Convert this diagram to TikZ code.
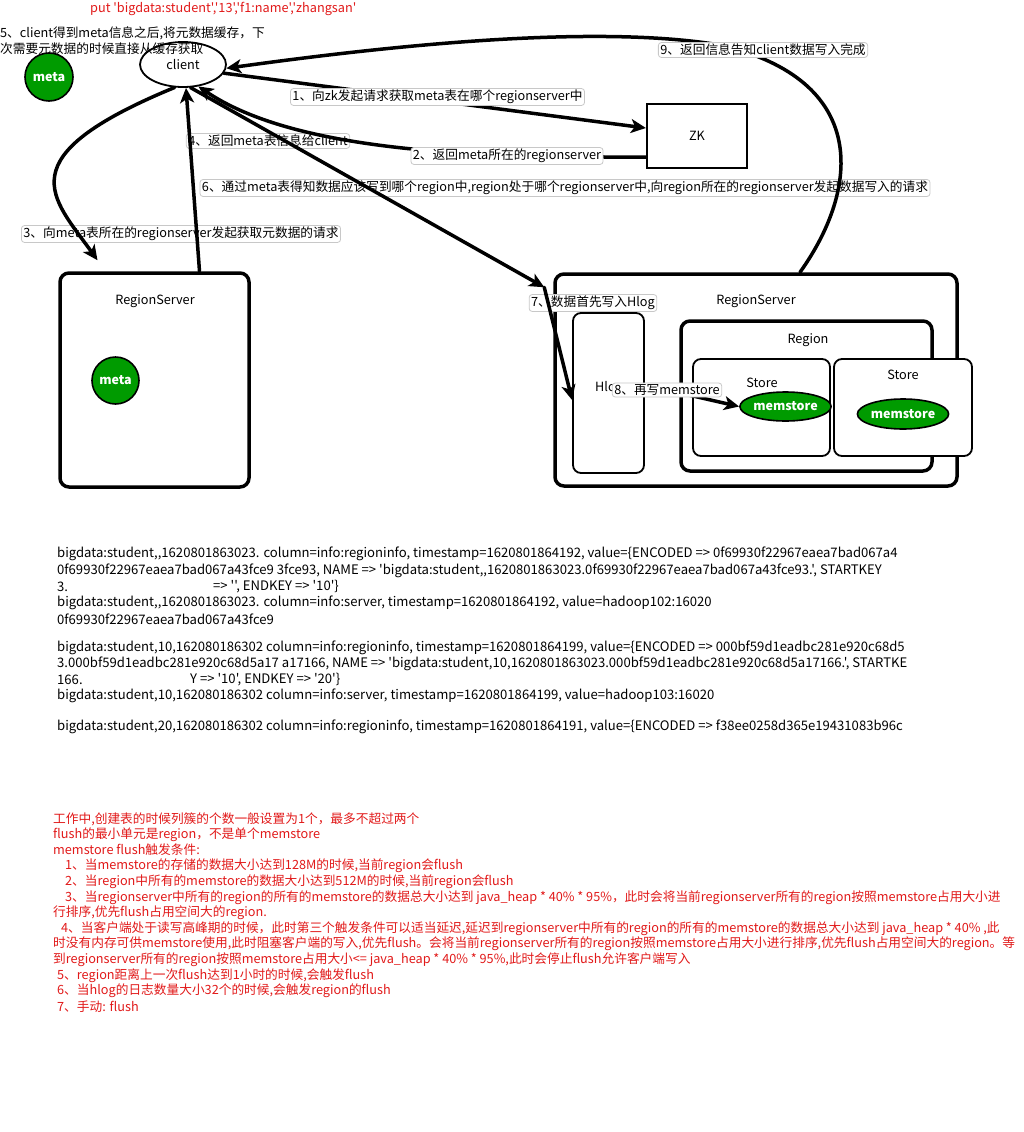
\documentclass[tikz,border=0pt]{standalone}
\usepackage{fontspec}
\newfontfamily\cnfont{Noto Sans CJK SC}
\usetikzlibrary{shapes.geometric,arrows.meta}
\definecolor{metagreen}{RGB}{0,155,0}
\definecolor{notered}{RGB}{225,25,25}
\definecolor{lblgray}{RGB}{200,200,200}

\begin{document}
\begin{tikzpicture}[x=1pt,y=-1pt,
	font=\cnfont\fontsize{12.7}{16}\selectfont,
	box/.style={draw,line width=3.5pt,rounded corners=9pt},
	thinbox/.style={draw,line width=1.8pt,rounded corners=8pt,fill=white},
	bubble/.style={draw,line width=1.6pt,fill=metagreen,text=white,font=\cnfont\bfseries\fontsize{12.5}{15}\selectfont},
	lbl/.style={draw=lblgray,fill=white,rounded corners=3pt,line width=0.8pt,inner xsep=2pt,inner ysep=1.5pt},
	flow/.style={line width=3.5pt,line cap=round,-{Stealth[length=15pt,width=14pt,inset=4pt]}},
	line/.style={anchor=west,inner sep=0pt,font=\cnfont\fontsize{13.1}{16}\selectfont},
	redline/.style={anchor=west,inner sep=0pt,text=notered}]
	\useasboundingbox (0,0) rectangle (1024,1132);

	\node[redline] (put) at (90,9) {put 'bigdata:student','13','f1:name','zhangsan'};

	\node[draw,ellipse,line width=1.8pt,minimum width=86pt,minimum height=45pt] (client) at (183,64.5) {client};
	\node[anchor=west,inner sep=0pt,align=left] (cache) at (0,41) {5、client得到meta信息之后,将元数据缓存，下\\次需要元数据的时候直接从缓存获取};
	\node[bubble,circle,minimum size=48pt,inner sep=0pt] (meta0) at (49,77) {meta};
	\node[draw,line width=2.2pt,minimum width=100pt,minimum height=64pt] (zk) at (697,136) {ZK};

	\node[box,minimum width=189pt,minimum height=214pt] (rs1) at (154.5,380) {};
	\node (rs1name) at (155,301) {RegionServer};
	\node[bubble,circle,minimum size=47pt,inner sep=0pt] (meta1) at (115.5,380.5) {meta};

	\node[box,minimum width=402pt,minimum height=212pt] (rs2) at (756,380) {};
	\node (rs2name) at (756,301) {RegionServer};
	\node[thinbox,minimum width=71pt,minimum height=160pt] (hlog) at (608.5,393) {};
	\node (hlogname) at (609,388) {Hlog};
	\node[box,minimum width=251pt,minimum height=150pt] (region) at (806.5,396) {};
	\node (regionname) at (808,340) {Region};
	\node[thinbox,minimum width=137pt,minimum height=97pt] (store1) at (761.5,407.5) {};
	\node (store1name) at (762,383) {Store};
	\node[bubble,ellipse,minimum width=73pt,minimum height=29pt,inner sep=0pt] (mem1) at (785.5,406.5) {memstore};
	\node[thinbox,minimum width=138pt,minimum height=97pt] (store2) at (903,407.5) {};
	\node (store2name) at (903,375) {Store};
	\node[bubble,ellipse,minimum width=74pt,minimum height=30pt,inner sep=0pt] (mem2) at (903,414) {memstore};

	\node[lbl] (lbl6) at (565,188) {6、通过meta表得知数据应该写到哪个region中,region处于哪个regionserver中,向region所在的regionserver发起数据写入的请求};
	\node[lbl] (lbl3) at (181,234) {3、向meta表所在的regionserver发起获取元数据的请求};
	\node[lbl] (lbl4) at (268,141) {4、返回meta表信息给client};
	\node[lbl] (lbl7) at (593,303) {7、数据首先写入Hlog};

	\coordinate (gate) at ([xshift=-9pt,yshift=-15pt]rs2.north west);
	\coordinate (bend9) at (720,45);

	\draw[flow] (client.-12) -- ([yshift=8pt]zk.west);
	\draw[flow] ([yshift=-21pt]zk.west) -- ++(-40,0) .. controls +(-187,0) and +(82,55) .. (client.-55);
	\draw[flow] (client.-110) .. controls +(-170,70) and +(-45,-63) .. ([xshift=-57pt,yshift=11pt]rs1.north);
	\draw[flow] ([xshift=45pt]rs1.north) -- ([xshift=3pt]client.south);
	\draw[flow] (client.-72) -- (gate);
	\draw[flow] (gate) -- ([yshift=-7pt]hlog.west);
	\draw[flow] ([yshift=8pt]hlog.east) -- (mem1.west);
	\draw[flow] ([xshift=44pt]rs2.north) .. controls +(60,-84) and +(150,35) .. (bend9) .. controls +(-120,-20) and +(180,-25) .. (client.-5);

	\node[lbl] (lbl1) at (437.5,97) {1、向zk发起请求获取meta表在哪个regionserver中};
	\node[lbl] (lbl2) at (507,156) {2、返回meta所在的regionserver};
	\node[lbl] (lbl9) at (763,50) {9、返回信息告知client数据写入完成};
	\node[lbl] (lbl8) at (667,390) {8、再写memstore};

	\node[line] (row1) at (57,554) {bigdata:student,,1620801863023. column=info:regioninfo, timestamp=1620801864192, value=\{ENCODED => 0f69930f22967eaea7bad067a4};
	\node[line] (row2) at (57,571) {0f69930f22967eaea7bad067a43fce9 3fce93, NAME => 'bigdata:student,,1620801863023.0f69930f22967eaea7bad067a43fce93.', STARTKEY};
	\node[line] (row3) at (57,587) {3.};
	\node[line] (row3b) at (213,587) {=> '', ENDKEY => '10'\}};
	\node[line] (row4) at (57,603) {bigdata:student,,1620801863023. column=info:server, timestamp=1620801864192, value=hadoop102:16020};
	\node[line] (row5) at (57,619) {0f69930f22967eaea7bad067a43fce9};
	\node[line] (row6) at (57,648) {bigdata:student,10,162080186302 column=info:regioninfo, timestamp=1620801864199, value=\{ENCODED => 000bf59d1eadbc281e920c68d5};
	\node[line] (row7) at (57,664) {3.000bf59d1eadbc281e920c68d5a17 a17166, NAME => 'bigdata:student,10,1620801863023.000bf59d1eadbc281e920c68d5a17166.', STARTKE};
	\node[line] (row8) at (57,680) {166.};
	\node[line] (row8b) at (190,680) {Y => '10', ENDKEY => '20'\}};
	\node[line] (row9) at (57,696) {bigdata:student,10,162080186302 column=info:server, timestamp=1620801864199, value=hadoop103:16020};
	\node[line] (row10) at (57,727) {bigdata:student,20,162080186302 column=info:regioninfo, timestamp=1620801864191, value=\{ENCODED => f38ee0258d365e19431083b96c};

	\node[redline] (rule0) at (53,819) {工作中,创建表的时候列簇的个数一般设置为1个，最多不超过两个};
	\node[redline] (rule0b) at (53,835) {flush的最小单元是region，不是单个memstore};
	\node[redline] (rule0c) at (53,850) {memstore flush触发条件:};
	\node[redline] (rule1) at (65,866) {1、当memstore的存储的数据大小达到128M的时候,当前region会flush};
	\node[redline] (rule2) at (65,882) {2、当region中所有的memstore的数据大小达到512M的时候,当前region会flush};
	\node[redline] (rule3) at (65,898) {3、当regionserver中所有的region的所有的memstore的数据总大小达到 java\_heap * 40\% * 95\%，此时会将当前regionserver所有的region按照memstore占用大小进};
	\node[redline] (rule3b) at (53,913) {行排序,优先flush占用空间大的region.};
	\node[redline] (rule4) at (61,929) {4、当客户端处于读写高峰期的时候，此时第三个触发条件可以适当延迟,延迟到regionserver中所有的region的所有的memstore的数据总大小达到 java\_heap * 40\% ,此};
	\node[redline] (rule4b) at (53,944) {时没有内存可供memstore使用,此时阻塞客户端的写入,优先flush。会将当前regionserver所有的region按照memstore占用大小进行排序,优先flush占用空间大的region。等};
	\node[redline] (rule4c) at (53,960) {到regionserver所有的region按照memstore占用大小<= java\_heap * 40\% * 95\%,此时会停止flush允许客户端写入};
	\node[redline] (rule5) at (57,976) {5、region距离上一次flush达到1小时的时候,会触发flush};
	\node[redline] (rule6) at (57,991) {6、当hlog的日志数量大小32个的时候,会触发region的flush};
	\node[redline] (rule7) at (57,1007) {7、手动: flush};
\end{tikzpicture}
\end{document}
